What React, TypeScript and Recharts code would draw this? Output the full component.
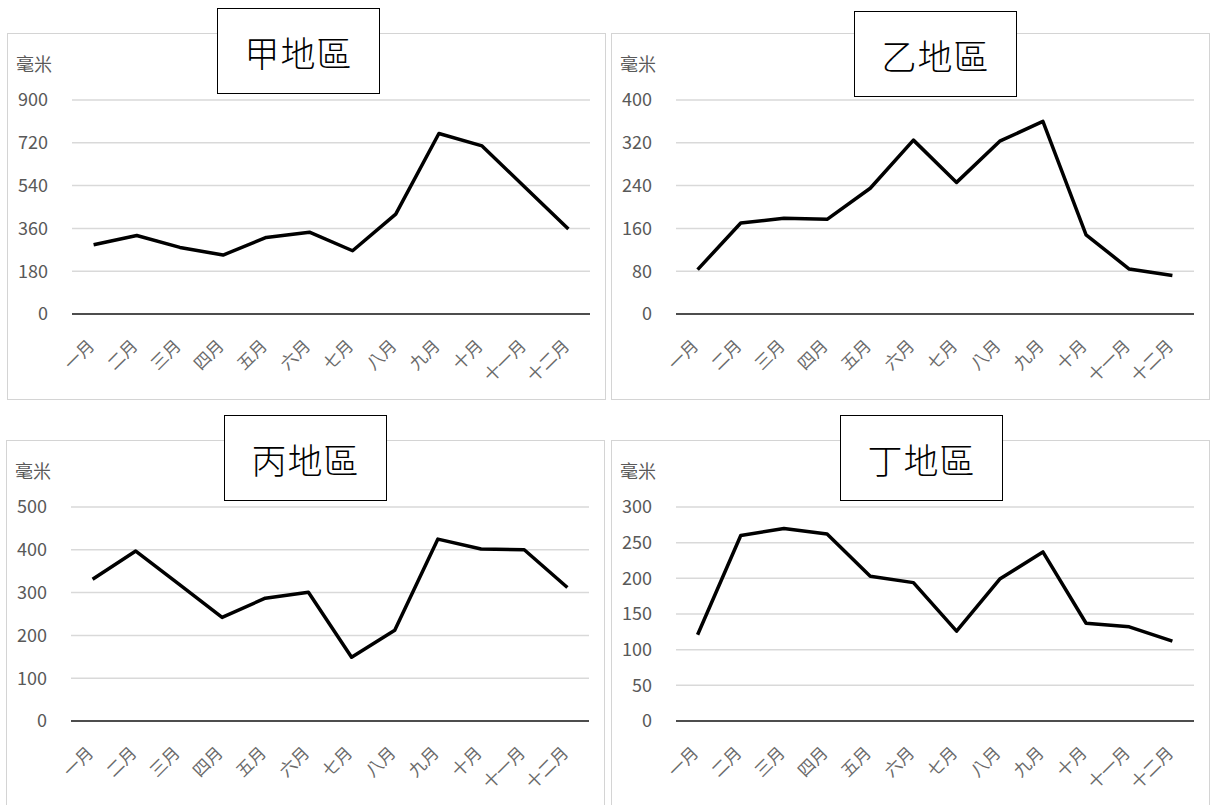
import React from 'react';
import { LineChart, Line, XAxis, YAxis, CartesianGrid } from 'recharts';

const months = ['一月', '二月', '三月', '四月', '五月', '六月', '七月', '八月', '九月', '十月', '十一月', '十二月'];

const jiaValues = [291, 330, 280, 248, 322, 344, 266, 420, 759, 707, 532, 357];
const yiValues = [83, 170, 179, 177, 235, 325, 246, 323, 360, 148, 84, 72];
const bingValues = [331, 397, 320, 242, 287, 301, 149, 212, 425, 402, 400, 312];
const dingValues = [121, 260, 270, 262, 203, 194, 126, 199, 237, 137, 132, 112];

const jiaTicks = [0, 180, 360, 540, 720, 900];
const yiTicks = [0, 80, 160, 240, 320, 400];
const bingTicks = [0, 100, 200, 300, 400, 500];
const dingTicks = [0, 50, 100, 150, 200, 250, 300];

const FONT = '"Noto Sans CJK TC", "Noto Sans", sans-serif';
const GREY = '#595959';
const W = 599;
const H = 367;

function MonthTick(props: any) {
  const { x, y, payload } = props;
  return (
    <g transform={`translate(${x + 2},${y + 31})`}>
      <text textAnchor="end" transform="rotate(-45)" fill="#6a6a6a" fontSize={17} fontFamily={FONT}>
        {payload.value}
      </text>
    </g>
  );
}

interface PanelProps {
  left: number;
  top: number;
  title: string;
  titleLeft: number;
  titleTop: number;
  values: number[];
  ticks: number[];
}

function Panel({ left, top, title, titleLeft, titleTop, values, ticks }: PanelProps) {
  const data = months.map((m, i) => ({ month: m, value: values[i] }));
  return (
    <>
      <div
        style={{
          position: 'absolute',
          left,
          top,
          width: W,
          height: H,
          border: '1px solid #d4d4d4',
          boxSizing: 'border-box',
          background: '#fff',
        }}
      >
        <div style={{ position: 'absolute', left: 8, top: 16, fontSize: 18, color: GREY, fontFamily: FONT }}>
          毫米
        </div>
        <div style={{ position: 'absolute', left: -1, top: -1 }}>
          <LineChart width={W} height={H} data={data} margin={{ top: 67, right: 16, left: 0, bottom: 0 }}>
            <CartesianGrid vertical={false} stroke="#d9d9d9" strokeWidth={1.5} />
            <XAxis
              dataKey="month"
              height={86}
              interval={0}
              tickLine={false}
              tickSize={0}
              tick={<MonthTick />}
              axisLine={{ stroke: '#4d4d4d', strokeWidth: 1.8 }}
              padding={{ left: 21.6, right: 21.6 }}
            />
            <YAxis
              width={65}
              domain={[0, ticks[ticks.length - 1]]}
              ticks={ticks}
              interval={0}
              tickLine={false}
              axisLine={false}
              tickSize={0}
              tickMargin={24}
              tick={{ fill: GREY, fontSize: 18, fontFamily: FONT }}
            />
            <Line
              type="linear"
              dataKey="value"
              stroke="#000"
              strokeWidth={3.5}
              strokeLinejoin="round"
              dot={false}
              isAnimationActive={false}
            />
          </LineChart>
        </div>
      </div>
      <div
        style={{
          position: 'absolute',
          left: titleLeft,
          top: titleTop,
          width: 163,
          height: 86,
          border: '1.5px solid #000',
          boxSizing: 'border-box',
          background: '#fff',
          display: 'flex',
          alignItems: 'center',
          justifyContent: 'center',
          fontSize: 35,
          fontFamily: FONT,
          fontWeight: 300,
          color: '#000',
          letterSpacing: 1,
        }}
      >
        {title}
      </div>
    </>
  );
}

export default function App() {
  return (
    <div
      style={{
        position: 'absolute',
        left: 0,
        top: 0,
        width: 1210,
        height: 805,
        overflow: 'hidden',
        background: '#fff',
      }}
    >
      <Panel left={7} top={33} title="甲地區" titleLeft={217} titleTop={8} values={jiaValues} ticks={jiaTicks} />
      <Panel left={611} top={33} title="乙地區" titleLeft={854} titleTop={11} values={yiValues} ticks={yiTicks} />
      <Panel left={6} top={440} title="丙地區" titleLeft={224} titleTop={415} values={bingValues} ticks={bingTicks} />
      <Panel left={611} top={440} title="丁地區" titleLeft={840} titleTop={415} values={dingValues} ticks={dingTicks} />
    </div>
  );
}
